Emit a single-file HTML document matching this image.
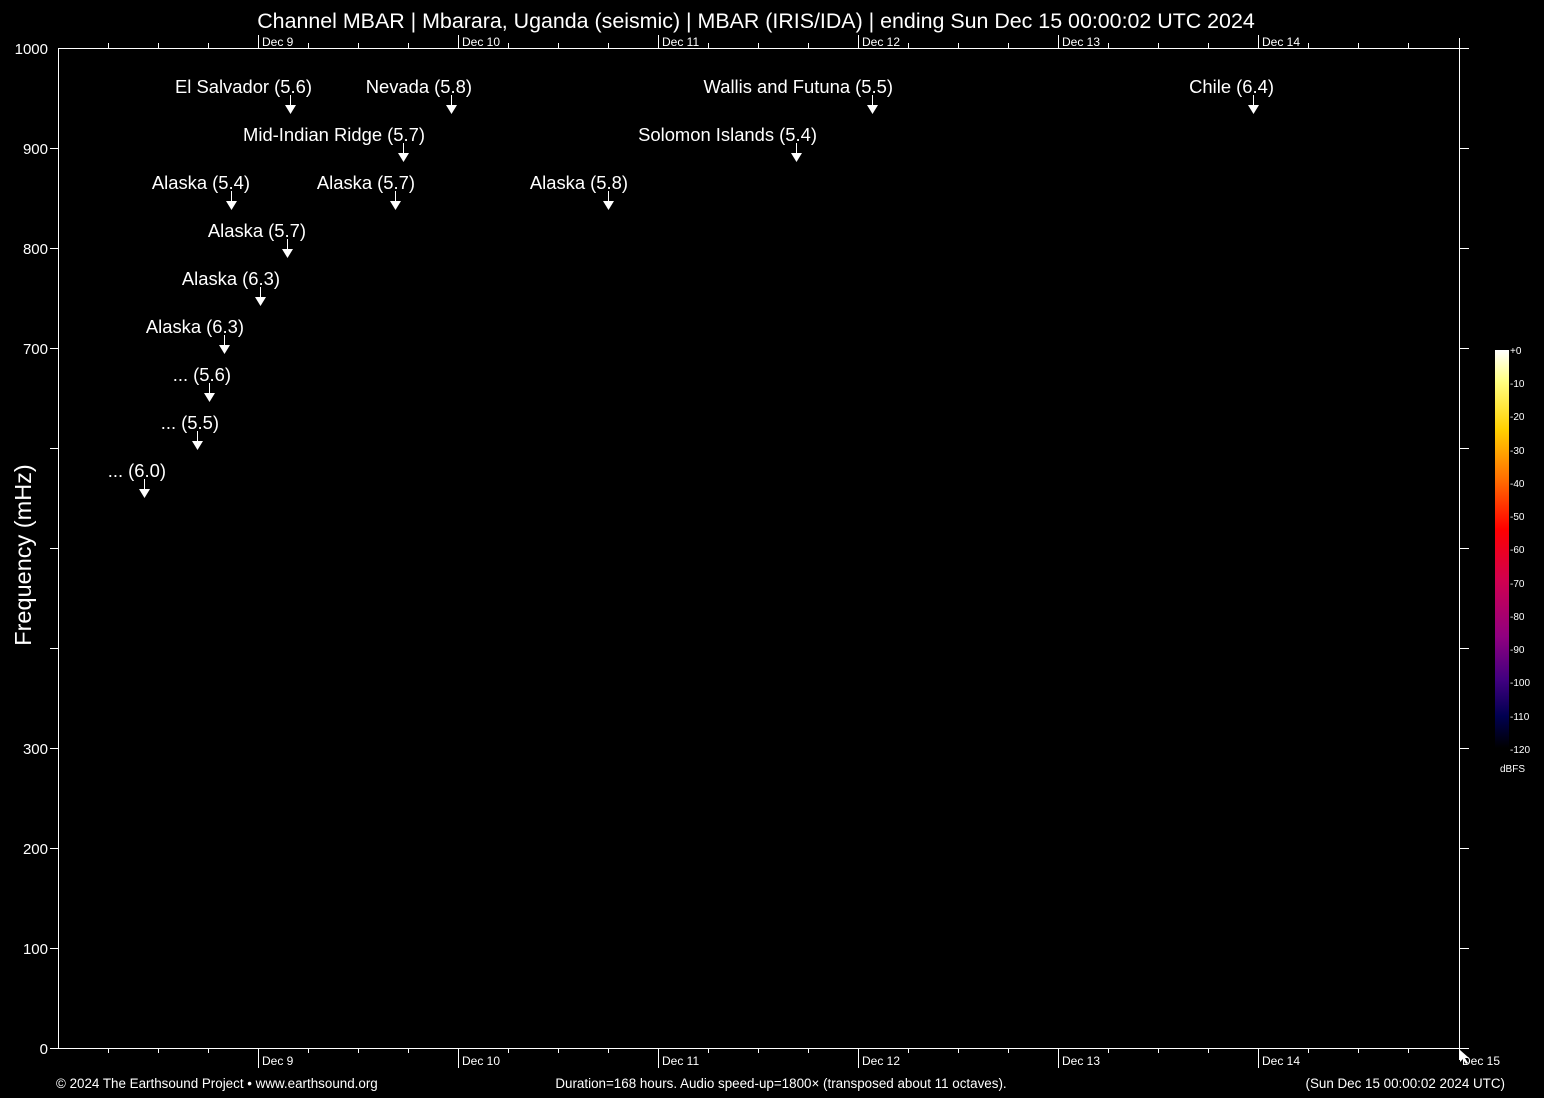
<!DOCTYPE html>
<html><head><meta charset="utf-8"><style>
html,body{margin:0;padding:0;background:#000;}
svg{display:block;}
text{font-family:"Liberation Sans",Arial,sans-serif;fill:#fff;}
</style></head><body>
<svg width="1544" height="1098" viewBox="0 0 1544 1098" xmlns="http://www.w3.org/2000/svg">
<defs>
<linearGradient id="cb" x1="0" y1="0" x2="0" y2="1">
<stop offset="0" stop-color="#ffffff"/>
<stop offset="0.08" stop-color="#ffff80"/>
<stop offset="0.2" stop-color="#ffd000"/>
<stop offset="0.33" stop-color="#ff6a00"/>
<stop offset="0.45" stop-color="#ff0000"/>
<stop offset="0.58" stop-color="#d00050"/>
<stop offset="0.72" stop-color="#900080"/>
<stop offset="0.83" stop-color="#400080"/>
<stop offset="0.92" stop-color="#000050"/>
<stop offset="1" stop-color="#000000"/>
</linearGradient>
</defs>
<rect width="1544" height="1098" fill="#000"/>
<text x="756" y="28" font-size="21.4" text-anchor="middle">Channel MBAR | Mbarara, Uganda (seismic) | MBAR (IRIS/IDA) | ending Sun Dec 15 00:00:02 UTC 2024</text>
<g stroke="#fff" stroke-width="1" fill="none" shape-rendering="crispEdges">
<line x1="58" y1="48.5" x2="1469" y2="48.5"/>
<line x1="58" y1="1048.5" x2="1469" y2="1048.5"/>
<line x1="58.5" y1="48" x2="58.5" y2="1048"/>
<line x1="1459.5" y1="38" x2="1459.5" y2="1060"/>
<path d="M108.5 48v-5M158.5 48v-5M208.5 48v-5M308.5 48v-5M358.5 48v-5M408.5 48v-5M508.5 48v-5M558.5 48v-5M608.5 48v-5M708.5 48v-5M758.5 48v-5M808.5 48v-5M908.5 48v-5M958.5 48v-5M1008.5 48v-5M1108.5 48v-5M1158.5 48v-5M1208.5 48v-5M1308.5 48v-5M1358.5 48v-5M1408.5 48v-5"/>
<path d="M258.5 48v-13M458.5 48v-13M658.5 48v-13M858.5 48v-13M1058.5 48v-13M1258.5 48v-13"/>
<path d="M108.5 1048v5M158.5 1048v5M208.5 1048v5M308.5 1048v5M358.5 1048v5M408.5 1048v5M508.5 1048v5M558.5 1048v5M608.5 1048v5M708.5 1048v5M758.5 1048v5M808.5 1048v5M908.5 1048v5M958.5 1048v5M1008.5 1048v5M1108.5 1048v5M1158.5 1048v5M1208.5 1048v5M1308.5 1048v5M1358.5 1048v5M1408.5 1048v5"/>
<path d="M258.5 1048v20M458.5 1048v20M658.5 1048v20M858.5 1048v20M1058.5 1048v20M1258.5 1048v20"/>
<path d="M50 148.5h8M50 248.5h8M50 348.5h8M50 448.5h8M50 548.5h8M50 648.5h8M50 748.5h8M50 848.5h8M50 948.5h8M50 1048.5h8"/>
<path d="M1459 148.5h10M1459 248.5h10M1459 348.5h10M1459 448.5h10M1459 548.5h10M1459 648.5h10M1459 748.5h10M1459 848.5h10M1459 948.5h10"/>
</g>
<g font-size="15" text-anchor="end">
<text x="48" y="54">1000</text><text x="48" y="154">900</text><text x="48" y="254">800</text><text x="48" y="354">700</text>
<text x="48" y="754">300</text><text x="48" y="854">200</text><text x="48" y="954">100</text><text x="48" y="1054">0</text>
</g>
<g font-size="12">
<text x="262" y="46">Dec  9</text><text x="462" y="46">Dec 10</text><text x="662" y="46">Dec 11</text><text x="862" y="46">Dec 12</text><text x="1062" y="46">Dec 13</text><text x="1262" y="46">Dec 14</text>
<text x="262" y="1065">Dec  9</text><text x="462" y="1065">Dec 10</text><text x="662" y="1065">Dec 11</text><text x="862" y="1065">Dec 12</text><text x="1062" y="1065">Dec 13</text><text x="1262" y="1065">Dec 14</text><text x="1462" y="1065">Dec 15</text>
</g>
<text transform="translate(31,555) rotate(-90)" font-size="23.5" text-anchor="middle">Frequency (mHz)</text>
<g font-size="13.4">
<text x="56" y="1088">© 2024 The Earthsound Project • www.earthsound.org</text>
<text x="781" y="1088" text-anchor="middle">Duration=168 hours. Audio speed-up=1800× (transposed about 11 octaves).</text>
<text x="1505" y="1088" text-anchor="end">(Sun Dec 15 00:00:02 2024 UTC)</text>
</g>
<rect x="1495" y="350" width="14" height="398" fill="url(#cb)"/>
<g font-size="10" fill="#ddd">
<text x="1510" y="354">+0</text><text x="1510" y="387">-10</text><text x="1510" y="420">-20</text><text x="1510" y="454">-30</text><text x="1510" y="487">-40</text><text x="1510" y="520">-50</text><text x="1510" y="553">-60</text><text x="1510" y="587">-70</text><text x="1510" y="620">-80</text><text x="1510" y="653">-90</text><text x="1510" y="686">-100</text><text x="1510" y="720">-110</text><text x="1510" y="753">-120</text>
<text x="1500" y="772">dBFS</text>
</g>
<g font-size="18.4" text-anchor="end">
<text x="312" y="93">El Salvador (5.6)</text>
<text x="472" y="93">Nevada (5.8)</text>
<text x="893" y="93">Wallis and Futuna (5.5)</text>
<text x="1274" y="93">Chile (6.4)</text>
<text x="425" y="141">Mid-Indian Ridge (5.7)</text>
<text x="817" y="141">Solomon Islands (5.4)</text>
<text x="250" y="189">Alaska (5.4)</text>
<text x="415" y="189">Alaska (5.7)</text>
<text x="628" y="189">Alaska (5.8)</text>
<text x="306" y="237">Alaska (5.7)</text>
<text x="280" y="285">Alaska (6.3)</text>
<text x="244" y="333">Alaska (6.3)</text>
<text x="231" y="381">... (5.6)</text>
<text x="219" y="429">... (5.5)</text>
<text x="166" y="477">... (6.0)</text>
</g>
<g stroke="#fff" stroke-width="1" shape-rendering="crispEdges">
<path d="M290.5 95v10M451.5 95v10M872.5 95v10M1253.5 95v10M403.5 143v10M796.5 143v10M231.5 191v10M395.5 191v10M608.5 191v10M287.5 239v10M260.5 287v10M224.5 335v10M209.5 383v10M197.5 431v10M144.5 479v10"/>
</g>
<g fill="#fff">
<path d="M285 105h11l-5.5 9z"/><path d="M446 105h11l-5.5 9z"/><path d="M867 105h11l-5.5 9z"/><path d="M1248 105h11l-5.5 9z"/>
<path d="M398 153h11l-5.5 9z"/><path d="M791 153h11l-5.5 9z"/>
<path d="M226 201h11l-5.5 9z"/><path d="M390 201h11l-5.5 9z"/><path d="M603 201h11l-5.5 9z"/>
<path d="M282 249h11l-5.5 9z"/><path d="M255 297h11l-5.5 9z"/><path d="M219 345h11l-5.5 9z"/>
<path d="M204 393h11l-5.5 9z"/><path d="M192 441h11l-5.5 9z"/><path d="M139 489h11l-5.5 9z"/>
<path d="M1460 1050l0 12l3 -3l3 5l2 -1l-3 -5h4z"/>
</g>
</svg>
</body></html>
